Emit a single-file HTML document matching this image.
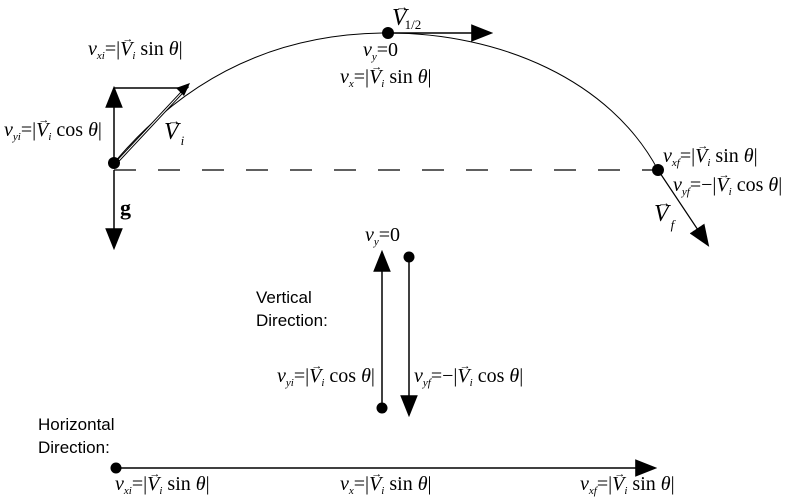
<!DOCTYPE html>
<html><head><meta charset="utf-8"><style>
html,body{margin:0;padding:0;background:#fff;width:791px;height:498px;overflow:hidden}
svg{display:block}
.m{font-family:"Liberation Serif",serif;font-size:20px;fill:#000}
.i{font-style:italic}
.s{font-size:11px;font-style:italic}
.a{font-size:11px;font-style:normal}
.h{font-family:"Liberation Sans",sans-serif;font-size:17px;fill:#000}
</style></head><body>
<svg width="791" height="498" viewBox="0 0 791 498">
<defs>
<marker id="ah" viewBox="0 0 10 10" refX="9" refY="5" markerWidth="22" markerHeight="22" markerUnits="userSpaceOnUse" orient="auto"><path d="M0,1 L10,5 L0,9 z" fill="#000"/></marker>
</defs>
<g stroke="#000" fill="none">
<line x1="114" y1="170" x2="656" y2="170" stroke-width="1.2" stroke-dasharray="22,22"/>
<path d="M114,163 C200,60 300,33 388,33 C500,33 610,80 658,170" stroke-width="1"/>
<line x1="114" y1="163" x2="114" y2="88" stroke-width="1.5" marker-end="url(#ah)"/>
<line x1="114" y1="88" x2="186" y2="88" stroke-width="1.5"/>
<line x1="116" y1="163" x2="188" y2="86" stroke-width="3"/>
<line x1="116" y1="163" x2="188" y2="86" stroke="#fff" stroke-width="1"/>
<path d="M190,83 L176,88 L184,96 z" fill="#000" stroke="none"/>
<line x1="114" y1="170" x2="114" y2="248" stroke-width="1.5" marker-end="url(#ah)"/>
<line x1="388" y1="33" x2="491" y2="33" stroke-width="1.5" marker-end="url(#ah)"/>
<line x1="658" y1="170" x2="708" y2="245" stroke-width="1.2" marker-end="url(#ah)"/>
<line x1="382" y1="408" x2="382" y2="252" stroke-width="1.5" marker-end="url(#ah)"/>
<line x1="409" y1="257" x2="409" y2="415" stroke-width="1.5" marker-end="url(#ah)"/>
<line x1="116" y1="468" x2="655" y2="468" stroke-width="1.5" marker-end="url(#ah)"/>
</g>
<g fill="#000">
<circle cx="114" cy="163" r="6"/>
<circle cx="388" cy="33" r="6"/>
<circle cx="658" cy="170" r="6"/>
<circle cx="382" cy="408" r="5.5"/>
<circle cx="409" cy="257" r="5.5"/>
<circle cx="116" cy="468" r="5.5"/>
</g>
<text class="m" x="88" y="55"><tspan class="i">v</tspan><tspan class="s" dy="4">xi</tspan><tspan dy="-4">=|</tspan><tspan class="i">V</tspan><tspan class="a" dx="-10" dy="-13">→</tspan><tspan class="s" dx="-1" dy="17">i</tspan><tspan dy="-4"> sin </tspan><tspan class="i">θ</tspan>|</text>
<text class="m" x="4" y="136"><tspan class="i">v</tspan><tspan class="s" dy="4">yi</tspan><tspan dy="-4">=|</tspan><tspan class="i">V</tspan><tspan class="a" dx="-10" dy="-13">→</tspan><tspan class="s" dx="-1" dy="17">i</tspan><tspan dy="-4"> cos </tspan><tspan class="i">θ</tspan>|</text>
<text class="m" x="164" y="139" style="font-size:24px"><tspan class="i">V</tspan><tspan class="a" dx="-11" dy="-14" style="font-size:13px">→</tspan><tspan class="s" dx="0" dy="20" style="font-size:13px">i</tspan></text>
<text class="m" x="120" y="215" style="font-size:22px;font-weight:bold">g</text>
<text class="m" x="392" y="25" style="font-size:24px"><tspan class="i">V</tspan><tspan class="a" dx="-11" dy="-14" style="font-size:13px">→</tspan><tspan dx="-4" dy="18" style="font-size:13px">1/2</tspan></text>
<text class="m" x="363" y="56"><tspan class="i">v</tspan><tspan class="s" dy="4">y</tspan><tspan dy="-4">=0</tspan></text>
<text class="m" x="340" y="83"><tspan class="i">v</tspan><tspan class="s" dy="4">x</tspan><tspan dy="-4">=|</tspan><tspan class="i">V</tspan><tspan class="a" dx="-10" dy="-13">→</tspan><tspan class="s" dx="-1" dy="17">i</tspan><tspan dy="-4"> sin </tspan><tspan class="i">θ</tspan>|</text>
<text class="m" x="663" y="162"><tspan class="i">v</tspan><tspan class="s" dy="4">xf</tspan><tspan dy="-4">=|</tspan><tspan class="i">V</tspan><tspan class="a" dx="-10" dy="-13">→</tspan><tspan class="s" dx="-1" dy="17">i</tspan><tspan dy="-4"> sin </tspan><tspan class="i">θ</tspan>|</text>
<text class="m" x="673" y="191"><tspan class="i">v</tspan><tspan class="s" dy="4">yf</tspan><tspan dy="-4">=−|</tspan><tspan class="i">V</tspan><tspan class="a" dx="-10" dy="-13">→</tspan><tspan class="s" dx="-1" dy="17">i</tspan><tspan dy="-4"> cos </tspan><tspan class="i">θ</tspan>|</text>
<text class="m" x="654" y="221" style="font-size:24px"><tspan class="i">V</tspan><tspan class="a" dx="-11" dy="-14" style="font-size:13px">→</tspan><tspan class="s" dx="0" dy="22" style="font-size:13px">f</tspan></text>
<text class="m" x="365" y="241"><tspan class="i">v</tspan><tspan class="s" dy="4">y</tspan><tspan dy="-4">=0</tspan></text>
<text class="h" x="256" y="303">Vertical</text>
<text class="h" x="256" y="326">Direction:</text>
<text class="m" x="277" y="382"><tspan class="i">v</tspan><tspan class="s" dy="4">yi</tspan><tspan dy="-4">=|</tspan><tspan class="i">V</tspan><tspan class="a" dx="-10" dy="-13">→</tspan><tspan class="s" dx="-1" dy="17">i</tspan><tspan dy="-4"> cos </tspan><tspan class="i">θ</tspan>|</text>
<text class="m" x="414" y="382"><tspan class="i">v</tspan><tspan class="s" dy="4">yf</tspan><tspan dy="-4">=−|</tspan><tspan class="i">V</tspan><tspan class="a" dx="-10" dy="-13">→</tspan><tspan class="s" dx="-1" dy="17">i</tspan><tspan dy="-4"> cos </tspan><tspan class="i">θ</tspan>|</text>
<text class="h" x="38" y="430">Horizontal</text>
<text class="h" x="38" y="453">Direction:</text>
<text class="m" x="115" y="490"><tspan class="i">v</tspan><tspan class="s" dy="4">xi</tspan><tspan dy="-4">=|</tspan><tspan class="i">V</tspan><tspan class="a" dx="-10" dy="-13">→</tspan><tspan class="s" dx="-1" dy="17">i</tspan><tspan dy="-4"> sin </tspan><tspan class="i">θ</tspan>|</text>
<text class="m" x="340" y="490"><tspan class="i">v</tspan><tspan class="s" dy="4">x</tspan><tspan dy="-4">=|</tspan><tspan class="i">V</tspan><tspan class="a" dx="-10" dy="-13">→</tspan><tspan class="s" dx="-1" dy="17">i</tspan><tspan dy="-4"> sin </tspan><tspan class="i">θ</tspan>|</text>
<text class="m" x="580" y="490"><tspan class="i">v</tspan><tspan class="s" dy="4">xf</tspan><tspan dy="-4">=|</tspan><tspan class="i">V</tspan><tspan class="a" dx="-10" dy="-13">→</tspan><tspan class="s" dx="-1" dy="17">i</tspan><tspan dy="-4"> sin </tspan><tspan class="i">θ</tspan>|</text>
</svg>
</body></html>
